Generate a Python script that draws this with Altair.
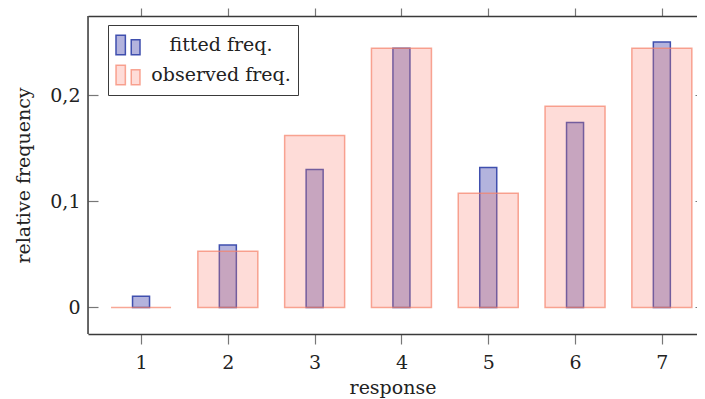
import altair as alt
import pandas as pd

responses = [1, 2, 3, 4, 5, 6, 7]
fitted = [0.0106, 0.0587, 0.130, 0.2442, 0.1318, 0.1742, 0.2501]
observed = [0.0, 0.053, 0.162, 0.2442, 0.1076, 0.1895, 0.2442]
series_names = ["fitted freq.", "observed freq."]
y_ticks = [0, 0.1, 0.2]

rows = []
for r, f in zip(responses, fitted):
    rows.append({"response": r, "series": series_names[0], "value": f})
for r, o in zip(responses, observed):
    rows.append({"response": r, "series": series_names[1], "value": o})
df = pd.DataFrame(rows)

W, H = 609, 318
FONT = "DejaVu Serif"
FS = 19
TEXT = "#222222"
FRAME = "#3a3a3a"
TICK = "#777777"

xscale = alt.Scale(domain=[0.389, 7.405], nice=False, zero=False, padding=0)
yscale = alt.Scale(domain=[-0.0251, 0.2747], nice=False, zero=False, padding=0)

fill_scale = alt.Scale(domain=series_names, range=["#b3b3dd", "rgba(250,128,114,0.28)"])
stroke_scale = alt.Scale(domain=series_names, range=["#3f4fae", "rgba(245,130,105,0.7)"])

legend_symbol = "M-1,-0.82H-0.22V0.82H-1Z M0.27,-0.43H1V0.82H0.27Z"
legend = alt.Legend(
    title=None,
    orient="none",
    legendX=20,
    legendY=9,
    symbolType=legend_symbol,
    symbolSize=576,
    symbolStrokeWidth=1.5,
    labelFont=FONT,
    labelFontSize=FS,
    labelColor=TEXT,
    labelAlign="center",
    labelOffset=80,
    fillColor="white",
    strokeColor=FRAME,
    padding=7,
    rowPadding=4,
    labelLimit=300,
)

base = alt.Chart(df)

fitted_layer = base.transform_filter(
    alt.datum.series == series_names[0]
).mark_bar(size=17, strokeWidth=1.5).encode(
    x=alt.X("response:Q", scale=xscale,
            axis=alt.Axis(orient="top", values=responses, labels=False, title=None,
                          grid=False, tickSize=8, tickColor=TICK, tickWidth=1.2,
                          domainColor=FRAME, domainWidth=1.5)),
    y=alt.Y("value:Q", scale=yscale,
            axis=alt.Axis(orient="right", values=y_ticks, labels=False, title=None,
                          grid=False, tickSize=2, offset=-2, domain=False,
                          tickColor=TICK, tickWidth=1.2)),
    fill=alt.Fill("series:N", scale=fill_scale, legend=legend),
    stroke=alt.Stroke("series:N", scale=stroke_scale, legend=legend),
)

observed_layer = base.transform_filter(
    alt.datum.series == series_names[1]
).mark_bar(size=60, strokeWidth=1.5).encode(
    x=alt.X("response:Q", scale=xscale,
            axis=alt.Axis(orient="bottom", values=responses, format="d", title="response",
                          grid=False, tickSize=10, tickColor=TICK, tickWidth=1.2,
                          domainColor=FRAME, domainWidth=1.5,
                          labelFont=FONT, labelFontSize=FS, labelColor=TEXT,
                          labelPadding=9, titleFont=FONT, titleFontSize=FS,
                          titleFontWeight="normal", titleColor=TEXT, titlePadding=6)),
    y=alt.Y("value:Q", scale=yscale,
            axis=alt.Axis(orient="left", values=y_ticks, title="relative frequency",
                          labelExpr="datum.value == 0 ? '0' : replace(format(datum.value, '.1f'), '.', ',')",
                          grid=False, tickSize=10, offset=-10, domain=False,
                          tickColor=TICK, tickWidth=1.2,
                          labelFont=FONT, labelFontSize=FS, labelColor=TEXT,
                          labelPadding=8, titleFont=FONT, titleFontSize=FS,
                          titleFontWeight="normal", titleColor=TEXT, titlePadding=16)),
    fill=alt.Fill("series:N", scale=fill_scale, legend=legend),
    stroke=alt.Stroke("series:N", scale=stroke_scale, legend=legend),
)

frame_left = alt.Chart(alt.Data(values=[{"a": 1}])).mark_rule(
    color=FRAME, strokeWidth=1.5
).encode(x=alt.value(0), y=alt.value(0), y2=alt.value(H))

chart = alt.layer(fitted_layer, observed_layer, frame_left).properties(
    width=W, height=H,
    autosize=alt.AutoSizeParams(type="none"),
    padding={"left": 80, "top": 8, "right": 0, "bottom": 70},
).configure_view(stroke=None).configure(background="white")

chart.save("out.html", embed_options={"renderer": "svg", "actions": False})
